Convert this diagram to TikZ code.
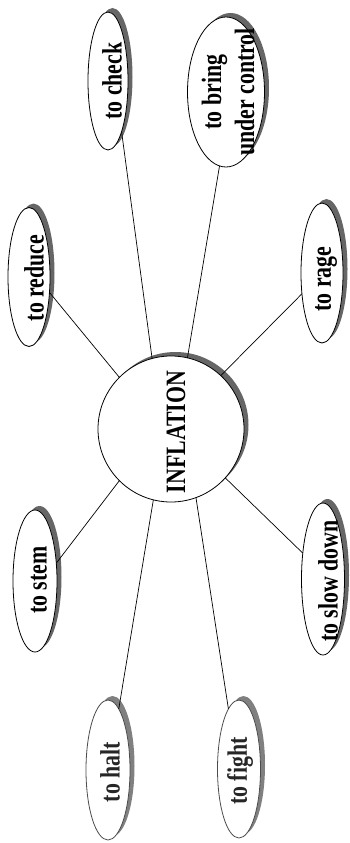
\documentclass[tikz,border=0pt]{standalone}
\usepackage{fontspec}
\usepackage{graphicx}
\setmainfont{Liberation Serif}
\usetikzlibrary{shapes.geometric,shadows}
\newcommand{\narrowtxt}[1]{\scalebox{0.78}[1]{#1}}
\begin{document}
\begin{tikzpicture}[x=1pt,y=-1pt,
  bubble/.style={ellipse,draw=black,line width=0.8pt,fill=white,inner sep=0pt,outer sep=0pt,
    drop shadow={shadow xshift=4.5pt,shadow yshift=4pt,fill=black!60,opacity=1}},
  fadedbubble/.style={ellipse,draw=black!70,line width=0.8pt,fill=white,inner sep=0pt,outer sep=0pt,
    drop shadow={shadow xshift=4.5pt,shadow yshift=4pt,fill=black!50,opacity=1}},
  hub/.style={circle,draw=black,line width=0.8pt,fill=white,inner sep=0pt,outer sep=0pt,
    minimum size=146pt,
    drop shadow={shadow xshift=4.5pt,shadow yshift=4pt,fill=black!60,opacity=1}},
  txt/.style={rotate=90,inner sep=0pt,font=\fontsize{28}{33}\selectfont\bfseries},
  fadedtxt/.style={txt,text=black!85},
  conn/.style={draw=black,line width=0.7pt}]
\useasboundingbox (0,0) rectangle (349,843);
\fill[white] (0,0) rectangle (349,843);

\node[hub] (inf) at (171,429) {};
\node[bubble,minimum width=40pt,minimum height=138pt] (check) at (108,81) {};
\node[bubble,minimum width=77pt,minimum height=150pt] (bring) at (226,92) {};
\node[bubble,minimum width=42pt,minimum height=139pt] (reduce) at (29,277) {};
\node[bubble,minimum width=42pt,minimum height=140pt] (rage) at (322,273) {};
\node[bubble,minimum width=44pt,minimum height=142pt] (stem) at (35,581) {};
\node[bubble,minimum width=43pt,minimum height=152pt] (slow) at (323,579) {};
\node[fadedbubble,minimum width=44pt,minimum height=140pt] (halt) at (108,770) {};
\node[fadedbubble,minimum width=43pt,minimum height=138pt] (fight) at (239,769) {};

\node[txt] (inft) at (176,432) {\narrowtxt{INFLATION}};
\node[txt] (checkt) at (112,81) {\narrowtxt{to check}};
\node[txt] (bringt) at (231,92) {\narrowtxt{\begin{tabular}{@{}c@{}}to bring\\under control\end{tabular}}};
\node[txt] (reducet) at (34,278) {\narrowtxt{to reduce}};
\node[txt] (raget) at (326,279) {\narrowtxt{to rage}};
\node[txt] (stemt) at (39,580) {\narrowtxt{to stem}};
\node[txt] (slowt) at (328,581) {\narrowtxt{to slow down}};
\node[fadedtxt] (haltt) at (110,772) {\narrowtxt{to halt}};
\node[fadedtxt] (fightt) at (240,771) {\narrowtxt{to fight}};

\draw[conn] (inf.105) -- (check.285);
\draw[conn] (inf.77) -- (bring.265);
\draw[conn] (inf.135) -- (reduce.323);
\draw[conn] (inf.47) -- (rage.226);
\draw[conn] (inf.225) -- (stem.40);
\draw[conn] (inf.318) -- (slow.128);
\draw[conn] (inf.256) -- (halt.80);
\draw[conn] (inf.290) -- (fight.100);
\end{tikzpicture}
\end{document}
